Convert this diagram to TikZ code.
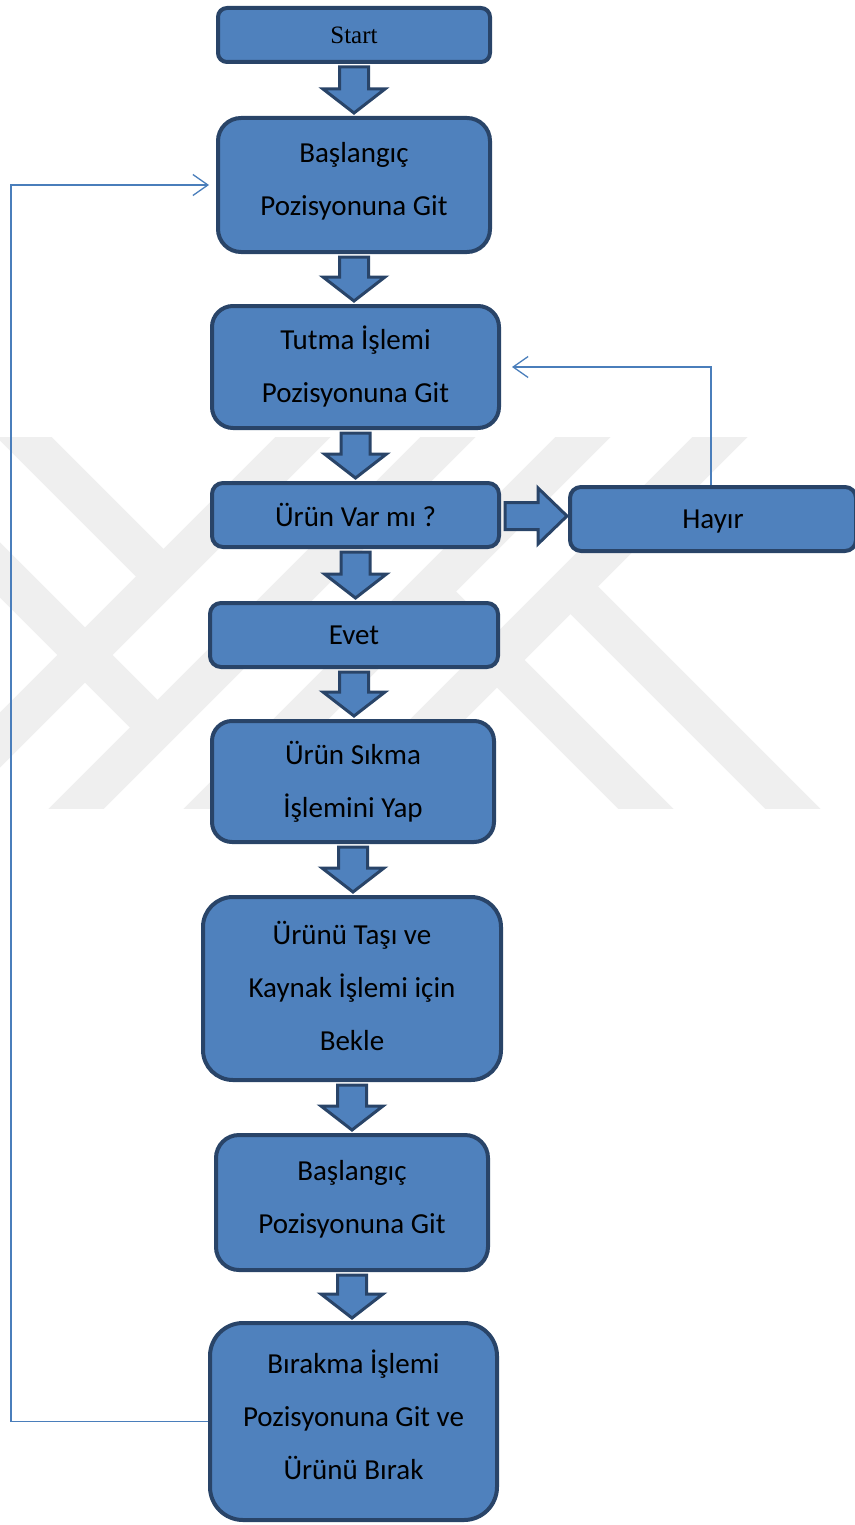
\documentclass[tikz,border=0pt]{standalone}
\usepackage{fontspec}
\setmainfont{Carlito}
\newfontfamily\serifstart{Liberation Serif}
\usetikzlibrary{calc,arrows.meta}
\definecolor{boxfill}{HTML}{4F81BD}
\definecolor{boxline}{HTML}{294468}
\definecolor{conn}{HTML}{4A7EBB}
\definecolor{wmgray}{HTML}{EFEFEF}
\tikzset{
  box/.style={draw=boxline, fill=boxfill, line width=4pt, align=center,
    text=black, font=\fontsize{29}{53}\selectfont, inner sep=0pt},
  blockarrow/.style={draw=boxline, fill=boxfill, line width=3pt, line join=miter},
  loopline/.style={draw=conn, line width=1.3pt, -{Straight Barb[length=15pt,width=21pt,line width=1.3pt]}},
  wm/.style={draw=wmgray, line width=39pt, line cap=butt}
}
\newcommand\dnarrow[2]{%
  \path[blockarrow] let \p1=(#1.south), \p2=(#2.north) in
   (\x1-14.5pt,\y1-3pt) -- (\x1+14.5pt,\y1-3pt) -- (\x1+14.5pt,\y2+27pt) --
   (\x1+31pt,\y2+27pt) -- (\x1,\y2+3pt) -- (\x1-31pt,\y2+27pt) --
   (\x1-14.5pt,\y2+27pt) -- cycle;}
\begin{document}
\begin{tikzpicture}[x=1pt,y=-1pt]
\useasboundingbox (0,0) rectangle (854,1525);
% watermark
\begin{scope}
\clip (0,437) rectangle (854,808);
\draw[wm] (340,400) -- (-160,900);
\draw[wm] (-20,393) -- (163,576);
\draw[wm] (485,400) -- (-15,900);
\draw[wm] (-40,530) -- (157,727);
\draw[wm] (620,400) -- (120,900);
\draw[wm] (757,400) -- (257,900);
\draw[wm] (570,586) -- (850,866);
\draw[wm] (428,591) -- (700,863);
\end{scope}
% boxes
\node[box, minimum width=272pt, minimum height=54pt, rounded corners=9pt,
      font=\serifstart\fontsize{25}{30}\selectfont] (start) at (354,35) {Start};
\node[box, minimum width=272pt, minimum height=134pt, rounded corners=23pt, text depth=12pt] (b1) at (354,185) {Başlangıç\\Pozisyonuna Git};
\node[box, minimum width=287pt, minimum height=122pt, rounded corners=21pt] (b2) at (355.5,367) {Tutma İşlemi\\Pozisyonuna Git};
\node[box, minimum width=287pt, minimum height=64pt, rounded corners=11pt] (b3) at (355.5,515) {Ürün Var mı ?};
\node[box, minimum width=286pt, minimum height=64pt, rounded corners=11pt, text depth=0pt] (hayir) at (713,519) {Hayır};
\node[box, minimum width=288pt, minimum height=64pt, rounded corners=11pt] (evet) at (354,635) {Evet};
\node[box, minimum width=282pt, minimum height=121pt, rounded corners=20pt] (b5) at (353,781.5) {Ürün Sıkma\\İşlemini Yap};
\node[box, minimum width=298pt, minimum height=183pt, rounded corners=30pt, text depth=5pt] (b6) at (352,988.5) {Ürünü Taşı ve\\Kaynak İşlemi için\\Bekle};
\node[box, minimum width=272pt, minimum height=135pt, rounded corners=23pt, text depth=12pt] (b7) at (352,1202.5) {Başlangıç\\Pozisyonuna Git};
\node[box, minimum width=287pt, minimum height=197pt, rounded corners=33pt, text depth=14pt] (b8) at (353.5,1421.5) {Bırakma İşlemi\\Pozisyonuna Git ve\\Ürünü Bırak};
% block arrows
\dnarrow{start}{b1}
\dnarrow{b1}{b2}
\dnarrow{b2}{b3}
\dnarrow{b3}{evet}
\dnarrow{evet}{b5}
\dnarrow{b5}{b6}
\dnarrow{b6}{b7}
\dnarrow{b7}{b8}
\path[blockarrow] let \p1=(b3.east), \p2=(hayir.west) in
   (\x1+4pt,\y1+12.5pt) -- (\x2-30pt,\y1+12.5pt) -- (\x2-30pt,\y1+27pt) --
   (\x2-1pt,\y1-1pt) -- (\x2-30pt,\y1-29pt) -- (\x2-30pt,\y1-14.5pt) --
   (\x1+4pt,\y1-14.5pt) -- cycle;
% loop connectors
\coordinate (b1in) at ([xshift=-7pt]b1.west);
\coordinate (b2in) at ([xshift=11pt]b2.east);
\draw[loopline] (b8.west) -- ++(-197,0) |- (b1in);
\draw[loopline] ([xshift=-2pt]hayir.north) |- (b2in);
\end{tikzpicture}
\end{document}
